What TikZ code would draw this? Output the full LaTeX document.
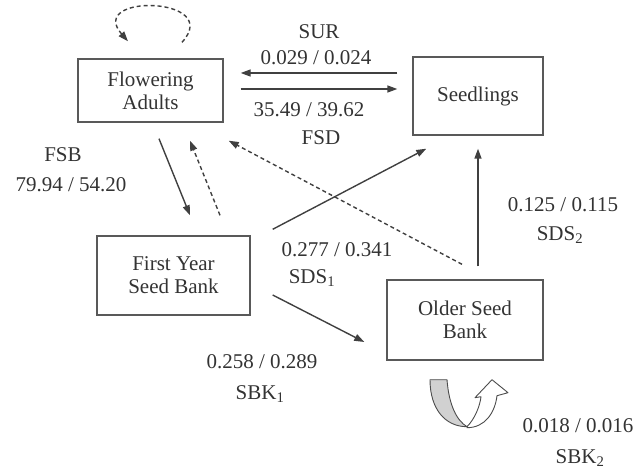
\documentclass[tikz,border=0pt]{standalone}
\usepackage{fontspec}
\setmainfont{Liberation Serif}
\usetikzlibrary{arrows.meta,calc}

\begin{document}
\begin{tikzpicture}[x=1pt,y=-1pt,
    every node/.style={font=\fontsize{21}{23}\selectfont, text=black!80},
    stage/.style={draw=black!65, line width=1.4pt, align=center, inner sep=0pt},
    flow/.style={draw=black!75, line width=1.4pt, -{Triangle[length=10pt,width=7pt]}},
    back/.style={flow, dash pattern=on 4pt off 3pt}]
    \useasboundingbox (0,0) rectangle (635,473);

    % life stages
    \node[stage, minimum width=145pt, minimum height=63pt] (FA) at (150.5,90.5) {Flowering\\Adults};
    \node[stage, minimum width=130pt, minimum height=78pt] (SD) at (478,96) {Seedlings};
    \node[stage, minimum width=153pt, minimum height=79pt] (FY) at (173.5,275.5) {First Year\\Seed Bank};
    \node[stage, minimum width=156pt, minimum height=80pt] (OS) at (465,320) {Older Seed\\Bank};

    % transitions
    \draw[flow] ($(SD.west)+(-15,-23)$) -- ($(FA.east)+(17,-17.5)$); % survival
    \draw[flow] ($(FA.east)+(17,-1.5)$) -- ($(SD.west)+(-15,-7)$); % seed production
    \draw[flow] ($(FA.south)+(8.5,16)$) -- ($(FY.north)+(16.5,-20)$); % into seed bank
    \draw[back] ($(FY.north)+(46.5,-20)$) -- ($(FA.south)+(39.5,18)$);
    \draw[back] ($(OS.north)+(-3,-15)$) -- ($(FA.south east)+(5,18)$);
    \draw[flow] ($(FY.north east)+(22,-6)$) -- ($(SD.south west)+(14,13)$); % SDS1
    \draw[flow] ($(FY.east)+(22,19.5)$) -- ($(OS.west)+(-22,22)$); % SBK1
    \draw[flow] ($(OS.north)+(13,-13)$) -- ($(SD.south)+(0,13)$); % SDS2
    \draw[back] ($(FA.north)+(31.5,-16)$) .. controls +(42,-46) and +(-42,-48) .. ($(FA.north)+(-22.5,-17)$); % self loop

    % stay in the older seed bank
    \begin{scope}[shift={(OS.south)}, draw=black!70, line width=0.9pt, line join=round]
        \draw[fill=white] (2,66) .. controls (10,58) and (15,45) .. (16,36) -- (10,37) -- (27,19)
            -- (43,32) -- (32,35) .. controls (30,52) and (20,67) .. (2,67) -- cycle;
        \draw[fill=black!18] (-35,19) -- (-18,19) .. controls (-16,45) and (-8,60) .. (2,66)
            .. controls (-20,66) and (-35,48) .. (-35,19) -- cycle;
    \end{scope}

    % rates
    \node (sur) at (319,32) {SUR};
    \node (surv) at (316,58) {0.029 / 0.024};
    \node (fsdv) at (309,110) {35.49 / 39.62};
    \node (fsd) at (321,138) {FSD};
    \node (fsb) at (63,155) {FSB};
    \node (fsbv) at (71,185) {79.94 / 54.20};
    \node (sdsav) at (337,250) {0.277 / 0.341};
    \node (sdsa) at (312,278) {SDS\textsubscript{1}};
    \node (sbkav) at (262,362) {0.258 / 0.289};
    \node (sbka) at (260,394) {SBK\textsubscript{1}};
    \node (sdsbv) at (563,205) {0.125 / 0.115};
    \node (sdsb) at (560,235) {SDS\textsubscript{2}};
    \node (sbkbv) at (578,426) {0.018 / 0.016};
    \node (sbkb) at (580,458) {SBK\textsubscript{2}};
\end{tikzpicture}
\end{document}
